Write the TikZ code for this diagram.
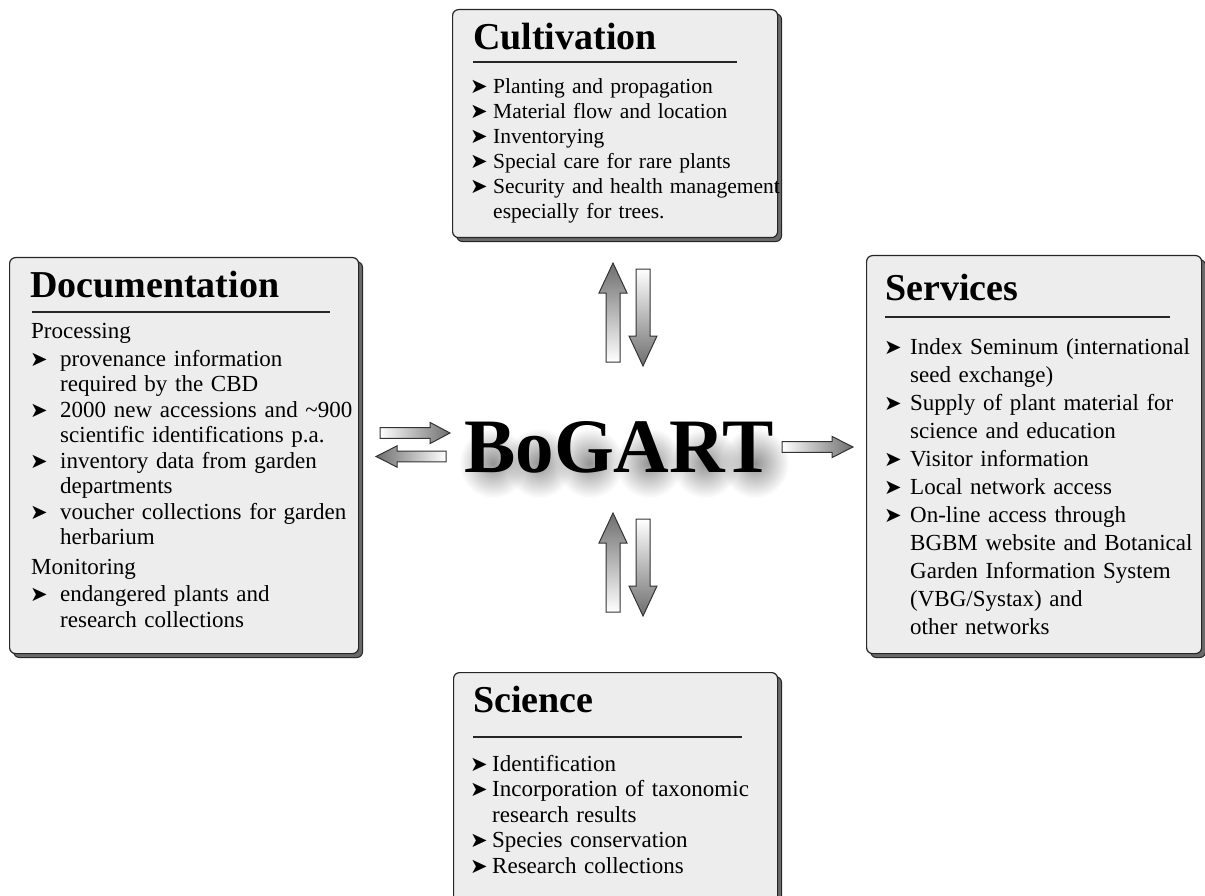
\documentclass[tikz,border=0pt]{standalone}
\usepackage{fontspec}
\setmainfont{Liberation Serif}
\newfontfamily\bulletfont{DejaVu Sans}
\usetikzlibrary{calc, shadows, fadings}

\definecolor{panelfill}{HTML}{EDEDED}
\definecolor{panelshadow}{HTML}{6A6A6A}
\definecolor{arrowdark}{HTML}{6E6E6E}

% soft glow behind the centre lettering
\tikzfading[name=glowfade, inner color=transparent!15, outer color=transparent!100]

% list bullet, #1 = indent of the item text
\newcommand{\bul}[1]{\makebox[#1][l]{\raisebox{0pt}{\bulletfont\fontsize{21}{21}\selectfont ➤}}}

% block arrow: [shading]{from}{to}{half shaft width}{head length}
\newcommand{\blockarrow}[5][]{%
  \path[arrowbody,#1] let \p1=(#2), \p2=(#3),
      \n1={veclen(\x2-\x1,\y2-\y1)}, \n2={(\x2-\x1)/\n1}, \n3={(\y2-\y1)/\n1},
      \p3=({\x2-#5*\n2},{\y2-#5*\n3}) in
    ({\x1-#4*\n3},{\y1+#4*\n2}) -- ({\x3-#4*\n3},{\y3+#4*\n2})
    -- ({\x3-2*#4*\n3},{\y3+2*#4*\n2}) -- (\p2)
    -- ({\x3+2*#4*\n3},{\y3-2*#4*\n2}) -- ({\x3+#4*\n3},{\y3-#4*\n2})
    -- ({\x1+#4*\n3},{\y1-#4*\n2}) -- cycle;
}

\tikzset{
  panel/.style={draw=black!85, line width=1.2pt, fill=panelfill, rounded corners=6pt,
    anchor=north west, inner sep=0pt,
    drop shadow={shadow xshift=4pt, shadow yshift=-4pt, fill=panelshadow,
      draw=black!85, line width=1pt, opacity=1}},
  head/.style={anchor=base west, inner sep=0pt, font=\fontsize{38}{38}\selectfont\bfseries},
  body/.style={anchor=base west, inner sep=0pt, align=left, text width=360pt},
  headrule/.style={line width=1.6pt, black!85},
  arrowbody/.style={draw=black!80, line width=1pt},
  logo/.style={anchor=base, inner sep=0pt, font=\fontsize{77}{77}\selectfont\bfseries}
}

\begin{document}
\begin{tikzpicture}[x=1pt, y=-1pt]
  \useasboundingbox (0,0) rectangle (1205,896);
  \clip (0,0) rectangle (1205,896);

  % Panels
  \node[panel, minimum width=325pt, minimum height=228pt] (cult) at (452,9) {};
  \node[panel, minimum width=349pt, minimum height=396pt] (doc) at (9,257) {};
  \node[panel, minimum width=335pt, minimum height=398pt] (serv) at (866,255) {};
  \node[panel, minimum width=324pt, minimum height=240pt] (sci) at (453,672) {};

  % Titles
  \node[head] (culthead) at (473,50) {Cultivation};
  \draw[headrule] (473,62) -- (737,62);
  \node[head] (dochead) at (30,297) {Documentation};
  \draw[headrule] (32,312) -- (330,312);
  \node[head] (servhead) at (885,300) {Services};
  \draw[headrule] (885,317) -- (1170,317);
  \node[head] (scihead) at (473,712) {Science};
  \draw[headrule] (473,737) -- (742,737);

  % Lists
  \node[body, font=\fontsize{21.5}{25}\selectfont] (cultlist) at (470,94) {%
    \bul{23pt}Planting and propagation\\
    \bul{23pt}Material flow and location\\
    \bul{23pt}Inventorying\\
    \bul{23pt}Special care for rare plants\\
    \bul{23pt}Security and health management\\
    \hspace*{23pt}especially for trees.};

  \node[body, font=\fontsize{23}{25.5}\selectfont] (doclist) at (30,338) {%
    \hspace*{1pt}Processing\\[2.5pt]
    \bul{30pt}provenance information\\
    \hspace*{30pt}required by the CBD\\
    \bul{30pt}2000 new accessions and \textasciitilde900\\
    \hspace*{30pt}scientific identifications p.a.\\
    \bul{30pt}inventory data from garden\\
    \hspace*{30pt}departments\\
    \bul{30pt}voucher collections for garden\\
    \hspace*{30pt}herbarium\\[4.5pt]
    \hspace*{1pt}Monitoring\\[1.5pt]
    \bul{30pt}endangered plants and\\
    \hspace*{30pt}research collections};

  \node[body, font=\fontsize{23}{28}\selectfont] (servlist) at (884,354) {%
    \bul{26pt}Index Seminum (international\\
    \hspace*{26pt}seed exchange)\\
    \bul{26pt}Supply of plant material for\\
    \hspace*{26pt}science and education\\
    \bul{26pt}Visitor information\\
    \bul{26pt}Local network access\\
    \bul{26pt}On-line access through\\
    \hspace*{26pt}BGBM website and Botanical\\
    \hspace*{26pt}Garden Information System\\
    \hspace*{26pt}(VBG/Systax) and\\
    \hspace*{26pt}other networks};

  \node[body, font=\fontsize{23}{25.5}\selectfont] (scilist) at (470,771) {%
    \bul{22pt}Identification\\
    \bul{22pt}Incorporation of taxonomic\\
    \hspace*{22pt}research results\\
    \bul{22pt}Species conservation\\
    \bul{22pt}Research collections};

  % Centre with its soft shadow
  \foreach \cx in {493,539,590,649,705,755}
    \fill[black!50, path fading=glowfade] (\cx-34,428) rectangle (\cx+34,498);
  \node[logo] (bogart) at (619,472) {BoGART};

  % Arrows
  \coordinate (cult-up-s) at (613,362);   \coordinate (cult-up-e) at (613,263);
  \coordinate (cult-dn-s) at (643,269);   \coordinate (cult-dn-e) at (643,366);
  \coordinate (sci-up-s) at (613,612);    \coordinate (sci-up-e) at (613,513);
  \coordinate (sci-dn-s) at (643,519);    \coordinate (sci-dn-e) at (643,616);
  \coordinate (doc-in-s) at (380,433);    \coordinate (doc-in-e) at (450,433);
  \coordinate (doc-out-s) at (446,456.5); \coordinate (doc-out-e) at (376,456.5);
  \coordinate (serv-s) at (782,447);      \coordinate (serv-e) at (853,447);

  \blockarrow[top color=arrowdark, bottom color=white]{cult-up-s}{cult-up-e}{7}{30}
  \blockarrow[top color=white, bottom color=arrowdark]{cult-dn-s}{cult-dn-e}{7}{30}
  \blockarrow[top color=arrowdark, bottom color=white]{sci-up-s}{sci-up-e}{7}{30}
  \blockarrow[top color=white, bottom color=arrowdark]{sci-dn-s}{sci-dn-e}{7}{30}
  \blockarrow[left color=white, right color=arrowdark]{doc-in-s}{doc-in-e}{5.3}{20}
  \blockarrow[left color=arrowdark, right color=white]{doc-out-s}{doc-out-e}{5.3}{21}
  \blockarrow[left color=white, right color=arrowdark]{serv-s}{serv-e}{5.3}{21}
\end{tikzpicture}
\end{document}
